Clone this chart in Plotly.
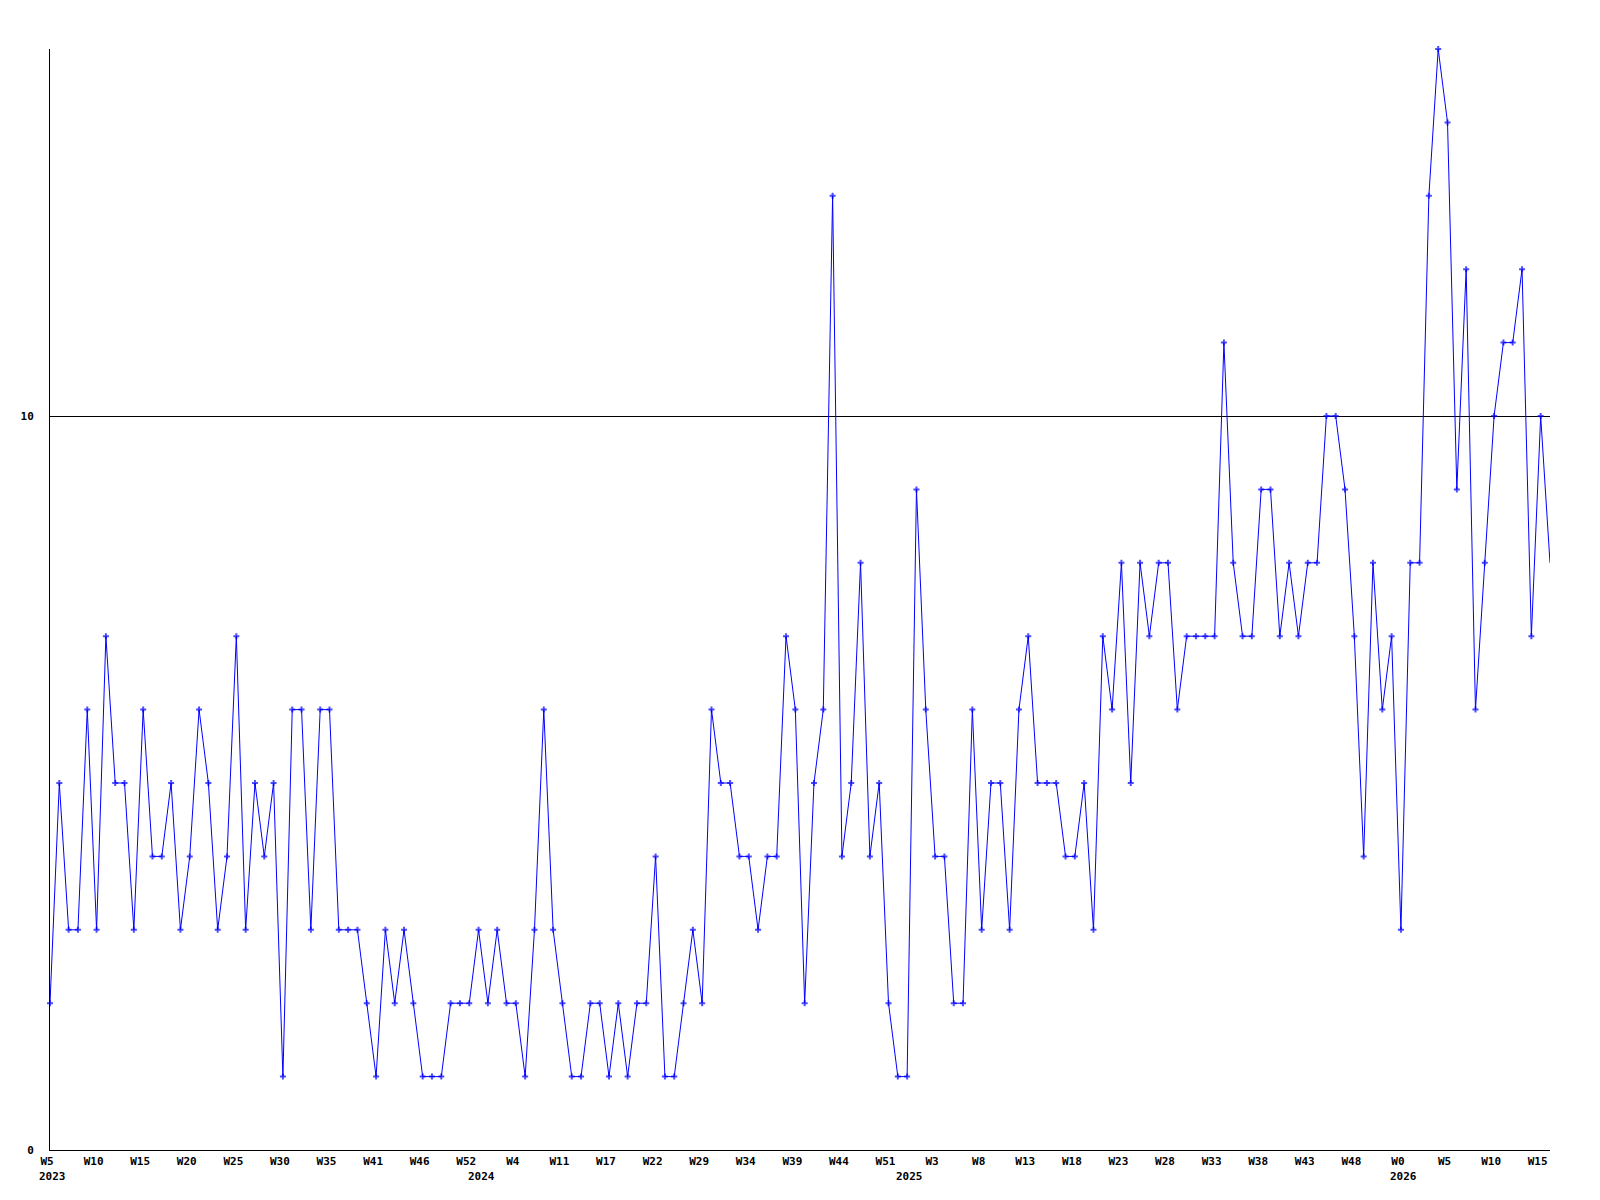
import plotly.graph_objects as go

values = [2, 5, 3, 3, 6, 3, 7, 5, 5, 3,
          6, 4, 4, 5, 3, 4, 6, 5, 3, 4,
          7, 3, 5, 4, 5, 1, 6, 6, 3, 6,
          6, 3, 3, 3, 2, 1, 3, 2, 3, 2,
          1, 1, 1, 2, 2, 2, 3, 2, 3, 2,
          2, 1, 3, 6, 3, 2, 1, 1, 2, 2,
          1, 2, 1, 2, 2, 4, 1, 1, 2, 3,
          2, 6, 5, 5, 4, 4, 3, 4, 4, 7,
          6, 2, 5, 6, 13, 4, 5, 8, 4, 5,
          2, 1, 1, 9, 6, 4, 4, 2, 2, 6,
          3, 5, 5, 3, 6, 7, 5, 5, 5, 4,
          4, 5, 3, 7, 6, 8, 5, 8, 7, 8,
          8, 6, 7, 7, 7, 7, 11, 8, 7, 7,
          9, 9, 7, 8, 7, 8, 8, 10, 10, 9,
          7, 4, 8, 6, 7, 3, 8, 8, 13, 15,
          14, 9, 12, 6, 8, 10, 11, 11, 12, 7,
          10, 8]

week_labels = ["W5", "W10", "W15", "W20", "W25", "W30", "W35", "W41", "W46", "W52",
               "W4", "W11", "W17", "W22", "W29", "W34", "W39", "W44", "W51",
               "W3", "W8", "W13", "W18", "W23", "W28", "W33", "W38", "W43", "W48",
               "W0", "W5", "W10", "W15"]
label_step = 5

year_labels = ["2023", "2024", "2025", "2026"]
year_positions = [0, 46, 92, 145]

y_ticks = [0, 10]

x = list(range(len(values)))
tick_positions = [i * label_step for i in range(len(week_labels))]

font = dict(family="DejaVu Sans Mono", size=11, color="black", weight="bold")

marker_sizes = [5] * (len(values) - 1) + [0]

fig = go.Figure()
fig.add_trace(go.Scatter(
    x=x, y=values, mode="lines+markers",
    line=dict(color="#0000ff", width=1),
    marker=dict(symbol="cross", size=marker_sizes, color="#0000ff",
                line=dict(width=0)),
    cliponaxis=False, showlegend=False,
))

for yr, pos in zip(year_labels, year_positions):
    fig.add_annotation(x=pos, y=0, xref="x", yref="paper", text=yr,
                       showarrow=False, xanchor="left", yanchor="top",
                       xshift=-13, yshift=-18, font=font)

# page body has an 8px margin: compensate so the plot area lands at 50..1550 x 49..1150
fig.update_layout(
    width=1592, height=1192,
    margin=dict(l=42, r=50, t=41, b=50),
    paper_bgcolor="white", plot_bgcolor="white",
    showlegend=False,
)
fig.update_xaxes(
    range=[0, len(values) - 1],
    tickmode="array", tickvals=tick_positions, ticktext=week_labels,
    showgrid=False, zeroline=False,
    showline=True, linecolor="black", linewidth=1,
    ticks="", ticklabelstandoff=1, ticklabelshift=-3,
    tickfont=font, tickangle=0, automargin=False,
)
fig.update_yaxes(
    range=[0, 15],
    tickmode="array", tickvals=y_ticks, ticktext=[str(v) for v in y_ticks],
    showgrid=True, gridcolor="black", gridwidth=1,
    zeroline=False,
    showline=True, linecolor="black", linewidth=1,
    ticks="", ticklabelstandoff=13,
    tickfont=font, automargin=False,
)

fig.write_html("out.html")
